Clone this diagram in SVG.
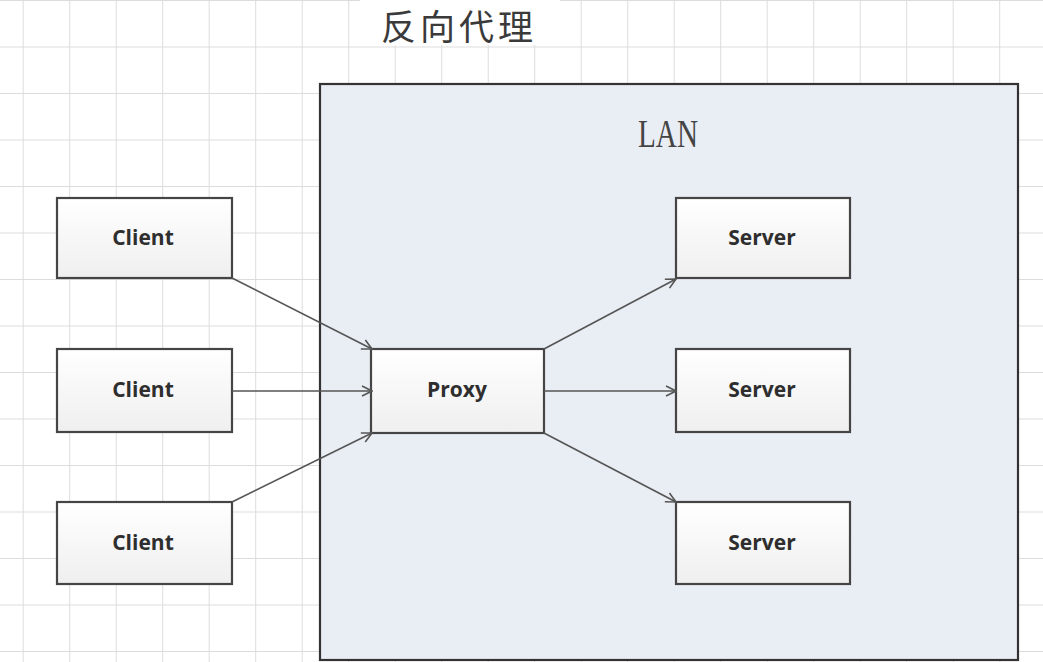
<svg xmlns="http://www.w3.org/2000/svg" width="1043" height="662" viewBox="0 0 1043 662">
<defs>
<pattern id="grid" x="22.7" y="0" width="46.5" height="46.5" patternUnits="userSpaceOnUse">
<path d="M0 0 V46.5 M0 0 H46.5" fill="none" stroke="#dcdcdc" stroke-width="2"/>
</pattern>
<linearGradient id="boxg" x1="0" y1="0" x2="0" y2="1">
<stop offset="0" stop-color="#ffffff"/>
<stop offset="1" stop-color="#efefef"/>
</linearGradient>
<marker id="arr" viewBox="0 0 12 12" refX="11" refY="6" markerWidth="12" markerHeight="12" markerUnits="userSpaceOnUse" orient="auto">
<path d="M1 1 L11 6 L1 11" fill="none" stroke="#555" stroke-width="1.6"/>
</marker>
</defs>
<style>
.box{fill:url(#boxg);stroke:#454545;stroke-width:2.2}
.lbl{font-family:"Open Sans","Liberation Sans",sans-serif;font-weight:700;font-size:21px;fill:#2e2e2e;text-anchor:middle}
.conn{stroke:#555;stroke-width:1.6;fill:none;marker-end:url(#arr)}
</style>
<rect width="1043" height="662" fill="#ffffff"/>
<rect width="1043" height="662" fill="url(#grid)"/>
<rect x="360" y="0" width="200" height="45" fill="#ffffff"/>
<text x="381" y="40" font-family="'Noto Sans CJK SC',sans-serif" font-size="35" letter-spacing="4" fill="#3a3a3a">反向代理</text>
<g id="lan">
<rect x="320" y="84" width="698" height="576" fill="#e9edf4" stroke="#333" stroke-width="2.2"/>
<text x="638" y="147" font-family="'Liberation Serif',serif" font-size="40" textLength="60" lengthAdjust="spacingAndGlyphs" fill="#444">LAN</text>
</g>
<g id="client1"><rect class="box" x="57" y="198" width="175" height="80"/><text class="lbl" x="143" y="245">Client</text></g>
<g id="client2"><rect class="box" x="57" y="349" width="175" height="83"/><text class="lbl" x="143" y="397">Client</text></g>
<g id="client3"><rect class="box" x="57" y="502" width="175" height="82"/><text class="lbl" x="143" y="550">Client</text></g>
<g id="proxy"><rect class="box" x="371" y="349" width="173" height="84"/><text class="lbl" x="457" y="397">Proxy</text></g>
<g id="server1"><rect class="box" x="676" y="198" width="174" height="80"/><text class="lbl" x="762" y="245">Server</text></g>
<g id="server2"><rect class="box" x="676" y="349" width="174" height="83"/><text class="lbl" x="762" y="397">Server</text></g>
<g id="server3"><rect class="box" x="676" y="502" width="174" height="82"/><text class="lbl" x="762" y="550">Server</text></g>
<g id="connectors">
<line class="conn" x1="232" y1="278" x2="372" y2="349"/>
<line class="conn" x1="232" y1="391" x2="372" y2="391"/>
<line class="conn" x1="232" y1="502" x2="372" y2="433"/>
<line class="conn" x1="544" y1="349" x2="676" y2="279"/>
<line class="conn" x1="544" y1="391" x2="676" y2="391"/>
<line class="conn" x1="544" y1="433" x2="676" y2="502"/>
</g>
</svg>
